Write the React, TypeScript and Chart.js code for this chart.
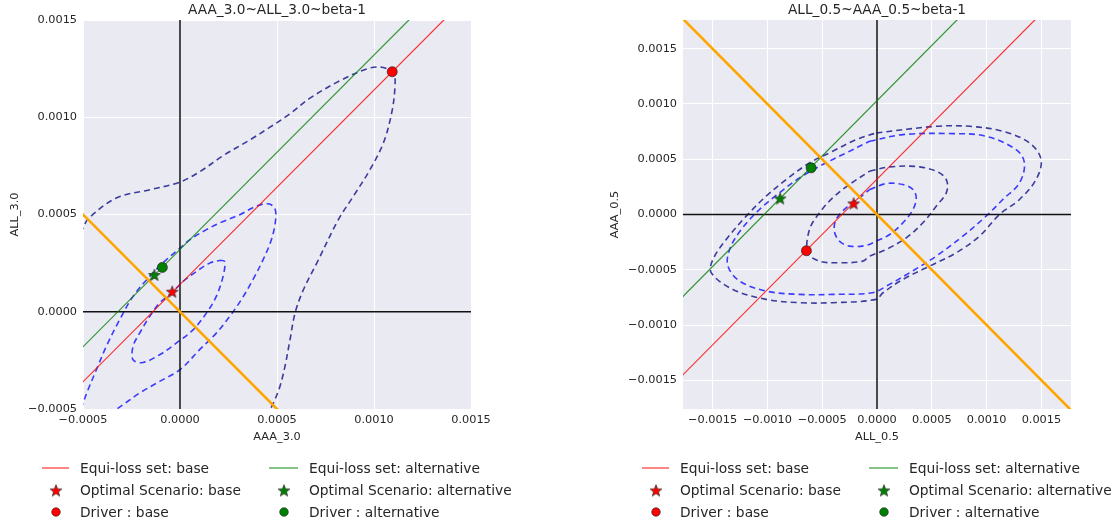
import React, { useEffect, useRef } from 'react';
import { Chart, registerables } from 'chart.js';

Chart.register(...registerables);

type Pt = [number, number];

// ---------- Left panel data: AAA_3.0 ~ ALL_3.0 ~ beta-1 ----------
const leftTitle = 'AAA_3.0~ALL_3.0~beta-1';
const leftXLabel = 'AAA_3.0';
const leftYLabel = 'ALL_3.0';
const leftTicks = [-0.0005, 0, 0.0005, 0.001, 0.0015];
const leftTickLabels = ['\u22120.0005', '0.0000', '0.0005', '0.0010', '0.0015'];

const leftEquiBase: Pt[] = [[-0.0007, -0.00056], [0.0017, 0.00184]];
const leftEquiAlt: Pt[] = [[-0.0007, -0.00038], [0.0017, 0.00202]];
const leftIso: Pt[] = [[-0.0007, 0.0007], [0.0017, -0.0017]];

const leftOptimalBase: Pt = [-0.00004, 0.000103];
const leftOptimalAlt: Pt = [-0.000132, 0.000189];
const leftDriverBase: Pt = [0.001094, 0.001234];
const leftDriverAlt: Pt = [-0.000091, 0.000228];

const leftContourOuter: Pt[] = [
  [-0.00052, 0.00041], [-0.0005, 0.00043], [-0.000474, 0.000477], [-0.000328, 0.000585],
  [-0.000156, 0.000627], [0.0, 0.000667], [0.000103, 0.000721], [0.000222, 0.000802],
  [0.000361, 0.000884], [0.000464, 0.000949], [0.000567, 0.001018], [0.00067, 0.001098],
  [0.000825, 0.001188], [0.000964, 0.001249], [0.001041, 0.001257], [0.0011, 0.001227],
  [0.001108, 0.001158], [0.001091, 0.001022], [0.001048, 0.000867], [0.000979, 0.00073],
  [0.000893, 0.000593], [0.000816, 0.000473], [0.000705, 0.00025], [0.000636, 0.000113],
  [0.000593, -0.000007], [0.000567, -0.000144], [0.000541, -0.000281], [0.000515, -0.000384],
  [0.000481, -0.00047], [0.000455, -0.00052],
];
const leftContourMiddle: Pt[] = [
  [-0.00051, -0.0005], [-0.0005, -0.00047], [-0.000474, -0.000401], [-0.000431, -0.000298],
  [-0.00038, -0.000178], [-0.000311, -0.000041], [-0.000242, 0.000079], [-0.000156, 0.000182],
  [-0.000071, 0.000267], [0.0, 0.000327], [0.00005, 0.00037], [0.000136, 0.000422],
  [0.000222, 0.000464], [0.000308, 0.000499], [0.000393, 0.000543], [0.000454, 0.000555],
  [0.000488, 0.000533], [0.000493, 0.000473], [0.000471, 0.00037], [0.000428, 0.000267],
  [0.000376, 0.000165], [0.000316, 0.000062], [0.000256, -0.000024], [0.000187, -0.00011],
  [0.000101, -0.000195], [0.0, -0.000298], [-0.000105, -0.000358], [-0.000208, -0.000418],
  [-0.000294, -0.000478], [-0.00034, -0.00051],
];
const leftContourInner: Pt[] = [
  [0.000204, 0.000264], [0.00023, 0.000259], [0.000222, 0.000182], [0.000187, 0.000079],
  [0.000136, -0.000007], [0.000067, -0.000093], [-0.000019, -0.000161], [-0.000105, -0.000221],
  [-0.000191, -0.000261], [-0.000242, -0.000247], [-0.000242, -0.000178], [-0.000208, -0.00011],
  [-0.000156, -0.000024], [-0.000105, 0.000045], [-0.00004, 0.0001], [0.000016, 0.000156],
  [0.000084, 0.000207], [0.000153, 0.00025], [0.000204, 0.000264],
];

// ---------- Right panel data: ALL_0.5 ~ AAA_0.5 ~ beta-1 ----------
const rightTitle = 'ALL_0.5~AAA_0.5~beta-1';
const rightXLabel = 'ALL_0.5';
const rightYLabel = 'AAA_0.5';
const rightTicks = [-0.0015, -0.001, -0.0005, 0, 0.0005, 0.001, 0.0015];
const rightTickLabels = ['\u22120.0015', '\u22120.0010', '\u22120.0005', '0.0000', '0.0005', '0.0010', '0.0015'];

const rightEquiBase: Pt[] = [[-0.002, -0.00168], [0.002, 0.00232]];
const rightEquiAlt: Pt[] = [[-0.002, -0.00097], [0.002, 0.00303]];
const rightIso: Pt[] = [[-0.002, 0.002], [0.002, -0.002]];

const rightOptimalBase: Pt = [-0.000213, 0.0001];
const rightOptimalAlt: Pt = [-0.000884, 0.000145];
const rightDriverBase: Pt = [-0.000644, -0.000328];
const rightDriverAlt: Pt = [-0.000601, 0.000422];

const rightContourOuterNavy: Pt[] = [
  [-0.000006, 0.000738], [0.00054, 0.000798], [0.000844, 0.000798], [0.001148, 0.000753],
  [0.001391, 0.000648], [0.001497, 0.000497], [0.001451, 0.000316], [0.0013, 0.000136],
  [0.001117, 0.0], [0.000935, -0.000196], [0.000723, -0.000346], [0.00048, -0.000467],
  [0.000237, -0.000587], [0.000055, -0.000708], [-0.000009, -0.000768], [-0.000404, -0.000798],
  [-0.000707, -0.000798], [-0.001011, -0.000768], [-0.001315, -0.000678], [-0.001512, -0.000527],
  [-0.001497, -0.000407], [-0.001376, -0.000226], [-0.001193, -0.000015], [-0.001011, 0.000166],
  [-0.000829, 0.000316], [-0.000616, 0.000467], [-0.000404, 0.000572], [-0.000191, 0.000678],
  [-0.000006, 0.000738],
];
const rightContourOuterBlue: Pt[] = [
  [-0.000067, 0.000663], [0.000237, 0.000723], [0.000692, 0.000732], [0.000996, 0.000708],
  [0.001269, 0.000587], [0.001345, 0.000467], [0.0013, 0.000286], [0.001148, 0.000136],
  [0.000996, -0.000015], [0.000783, -0.000196], [0.00054, -0.000377], [0.000298, -0.000527],
  [0.000085, -0.000648], [-0.00004, -0.000708], [-0.000404, -0.000723], [-0.000707, -0.000723],
  [-0.001011, -0.000693], [-0.001254, -0.000602], [-0.00136, -0.000467], [-0.001345, -0.000316],
  [-0.001239, -0.000136], [-0.001072, 0.000045], [-0.00089, 0.000196], [-0.000707, 0.000331],
  [-0.000495, 0.000452], [-0.000282, 0.000557], [-0.000067, 0.000663],
];
const rightContourInnerNavy: Pt[] = [
  [-0.000067, 0.000392], [0.000115, 0.000431], [0.000389, 0.000431], [0.000571, 0.000377],
  [0.000638, 0.000301], [0.000632, 0.000196], [0.00054, 0.000075], [0.000419, -0.000075],
  [0.000267, -0.000211], [0.000085, -0.000316], [-0.000067, -0.000377], [-0.000131, -0.000422],
  [-0.000343, -0.000437], [-0.000525, -0.000422], [-0.000632, -0.000346], [-0.000616, -0.000136],
  [-0.000525, 0.000015], [-0.000404, 0.000151], [-0.000252, 0.000271], [-0.000067, 0.000392],
];
const rightContourInnerBlue: Pt[] = [
  [-0.000067, 0.000226], [0.000085, 0.00028], [0.000237, 0.000271], [0.000328, 0.000226],
  [0.000358, 0.000151], [0.000328, 0.000045], [0.000237, -0.000075], [0.000115, -0.000181],
  [-0.000006, -0.000241], [-0.0001, -0.00028], [-0.000252, -0.000286], [-0.000343, -0.000241],
  [-0.000389, -0.000151], [-0.000373, -0.000045], [-0.000282, 0.00006], [-0.000161, 0.000151],
  [-0.000067, 0.000226],
];

const legendLabels = [
  'Equi-loss set: base', 'Equi-loss set: alternative',
  'Optimal Scenario: base', 'Optimal Scenario: alternative',
  'Driver : base', 'Driver : alternative',
];

// ---------- styles ----------
const FONT = "'DejaVu Sans', sans-serif";
const BG = '#EAEAF2';
const TEXT = '#262626';
const NAVY = 'rgba(0,0,128,0.75)';
const BLUE = 'rgba(0,0,255,0.75)';
const RED = 'rgba(255,0,0,0.8)';
const GREEN = 'rgba(0,128,0,0.8)';
const ORANGE = '#FFA500';

function starCanvas(fill: string, size: number): HTMLCanvasElement {
  const c = document.createElement('canvas');
  c.width = size;
  c.height = size;
  const ctx = c.getContext('2d')!;
  const cx = size / 2;
  const cy = size / 2 + 0.5;
  const R = size / 2 - 0.7;
  const r = R * 0.42;
  ctx.beginPath();
  for (let i = 0; i < 10; i++) {
    const a = -Math.PI / 2 + (i * Math.PI) / 5;
    const rr = i % 2 === 0 ? R : r;
    const x = cx + rr * Math.cos(a);
    const y = cy + rr * Math.sin(a);
    if (i === 0) ctx.moveTo(x, y);
    else ctx.lineTo(x, y);
  }
  ctx.closePath();
  ctx.fillStyle = fill;
  ctx.fill();
  ctx.lineWidth = 0.7;
  ctx.strokeStyle = '#333';
  ctx.stroke();
  return c;
}

type Contour = { pts: Pt[]; color: string };

type PanelProps = {
  left: number;
  width: number;
  areaRight: number;
  title: string;
  xLabel: string;
  yLabel: string;
  xMin: number; xMax: number; yMin: number; yMax: number;
  ticks: number[];
  tickLabels: string[];
  contours: Contour[];
  equiBase: Pt[]; equiAlt: Pt[]; iso: Pt[];
  optBase: Pt; optAlt: Pt; drvBase: Pt; drvAlt: Pt;
};

const legendRows = [468, 490.5, 512];
const legendCols = [
  { line0: 42, line1: 69, marker: 56, text: 80 },
  { line0: 269, line1: 298, marker: 284, text: 309 },
];

function Panel(p: PanelProps) {
  const ref = useRef<HTMLCanvasElement>(null);
  useEffect(() => {
    const canvas = ref.current!;
    const starRed = starCanvas('#ff0000', 14);
    const starGreen = starCanvas('#008000', 14);
    const toXY = (pts: Pt[]) => pts.map(([x, y]) => ({ x, y }));
    const lineDs = (pts: Pt[], color: string, width: number, extra: any = {}) => ({
      data: toXY(pts), showLine: true, pointRadius: 0, borderColor: color,
      borderWidth: width, backgroundColor: color, clip: 0, ...extra,
    });
    const datasets: any[] = [
      { data: toXY([p.drvBase]), pointStyle: 'circle', pointRadius: 5, backgroundColor: '#ff0000', borderColor: '#222', borderWidth: 0.7 },
      { data: toXY([p.drvAlt]), pointStyle: 'circle', pointRadius: 5, backgroundColor: '#008000', borderColor: '#222', borderWidth: 0.7 },
      { data: toXY([p.optBase]), pointStyle: starRed, pointRadius: 6 },
      { data: toXY([p.optAlt]), pointStyle: starGreen, pointRadius: 6 },
      lineDs(p.iso, ORANGE, 2.6),
      lineDs(p.equiAlt, GREEN, 1.2),
      lineDs(p.equiBase, RED, 1.2),
      lineDs([[0, p.yMin - 0.001], [0, p.yMax + 0.001]], '#111', 1.5),
      lineDs([[p.xMin - 0.001, 0], [p.xMax + 0.001, 0]], '#111', 1.5),
      ...p.contours.map((c) => lineDs(c.pts, c.color, 1.6, { borderDash: [6, 4], tension: 0.35 })),
    ];

    const bgPlugin = {
      id: 'bg',
      beforeDraw(chart: any) {
        const { ctx, chartArea: a } = chart;
        ctx.save();
        ctx.fillStyle = BG;
        ctx.fillRect(a.left, a.top, a.right - a.left, a.bottom - a.top);
        ctx.restore();
      },
    };
    const overlayPlugin = {
      id: 'overlay',
      afterDraw(chart: any) {
        const { ctx, chartArea: a } = chart;
        ctx.save();
        ctx.fillStyle = TEXT;
        ctx.font = `13.7px ${FONT}`;
        ctx.textAlign = 'center';
        ctx.textBaseline = 'middle';
        ctx.fillText(p.title, (a.left + a.right) / 2, 10);
        // legend
        ctx.font = `13.8px ${FONT}`;
        ctx.textAlign = 'left';
        const colors = [RED, GREEN];
        const fills = ['#ff0000', '#008000'];
        const stars = [starRed, starGreen];
        legendCols.forEach((col, ci) => {
          const y0 = legendRows[0];
          ctx.strokeStyle = colors[ci];
          ctx.lineWidth = 1.2;
          ctx.beginPath();
          ctx.moveTo(col.line0, y0);
          ctx.lineTo(col.line1, y0);
          ctx.stroke();
          ctx.fillStyle = TEXT;
          ctx.fillText(legendLabels[ci], col.text, y0 + 1);
          const y1 = legendRows[1];
          const s = stars[ci];
          ctx.drawImage(s, col.marker - s.width / 2, y1 - s.height / 2);
          ctx.fillStyle = TEXT;
          ctx.fillText(legendLabels[2 + ci], col.text, y1 + 1);
          const y2 = legendRows[2];
          ctx.beginPath();
          ctx.arc(col.marker, y2, 4.3, 0, Math.PI * 2);
          ctx.fillStyle = fills[ci];
          ctx.fill();
          ctx.lineWidth = 0.6;
          ctx.strokeStyle = '#222';
          ctx.stroke();
          ctx.fillStyle = TEXT;
          ctx.fillText(legendLabels[4 + ci], col.text, y2 + 1);
        });
        ctx.restore();
      },
    };

    const tickFont = { family: FONT, size: 11.3 };
    const chart = new Chart(canvas, {
      type: 'scatter',
      data: { datasets },
      options: {
        animation: false,
        responsive: false,
        devicePixelRatio: 1,
        events: [],
        layout: { padding: { left: 0, top: 20, right: p.width - p.areaRight, bottom: 76 } },
        plugins: { legend: { display: false }, tooltip: { enabled: false }, title: { display: false } },
        scales: {
          x: {
            type: 'linear',
            min: p.xMin,
            max: p.xMax,
            afterBuildTicks: (s: any) => { s.ticks = p.ticks.map((v) => ({ value: v })); },
            afterFit: (s: any) => { s.height = 40; },
            grid: { color: '#ffffff', lineWidth: 1, drawTicks: false },
            border: { display: false },
            ticks: {
              padding: 4, color: TEXT, font: tickFont, maxRotation: 0, autoSkip: false,
              callback: (v: any) => p.tickLabels[p.ticks.indexOf(v)] ?? '',
            },
            title: { display: true, text: p.xLabel, color: TEXT, font: { family: FONT, size: 11.3 }, padding: { top: 0, bottom: 5 } },
          },
          y: {
            type: 'linear',
            min: p.yMin,
            max: p.yMax,
            afterBuildTicks: (s: any) => { s.ticks = p.ticks.map((v) => ({ value: v })); },
            afterFit: (s: any) => { s.width = 83; },
            grid: { color: '#ffffff', lineWidth: 1, drawTicks: false },
            border: { display: false },
            ticks: {
              padding: 6, color: TEXT, font: tickFont, autoSkip: false,
              callback: (v: any) => p.tickLabels[p.ticks.indexOf(v)] ?? '',
            },
            title: { display: true, text: p.yLabel, color: TEXT, font: { family: FONT, size: 11.3 }, padding: { top: 8.2, bottom: 0 } },
          },
        },
      } as any,
      plugins: [bgPlugin, overlayPlugin],
    });
    return () => chart.destroy();
  }, []);
  return (
    <canvas
      ref={ref}
      width={p.width}
      height={525}
      style={{ position: 'absolute', left: p.left, top: 0, width: p.width, height: 525 }}
    />
  );
}

export default function App() {
  return (
    <div style={{ position: 'absolute', left: 0, top: 0, width: 1117, height: 525, background: '#fff', overflow: 'hidden' }}>
      <Panel
        left={0}
        width={560}
        areaRight={471}
        title={leftTitle}
        xLabel={leftXLabel}
        yLabel={leftYLabel}
        xMin={-0.0005} xMax={0.0015} yMin={-0.0005} yMax={0.0015}
        ticks={leftTicks}
        tickLabels={leftTickLabels}
        contours={[
          { pts: leftContourOuter, color: NAVY },
          { pts: leftContourMiddle, color: BLUE },
          { pts: leftContourInner, color: BLUE },
        ]}
        equiBase={leftEquiBase} equiAlt={leftEquiAlt} iso={leftIso}
        optBase={leftOptimalBase} optAlt={leftOptimalAlt} drvBase={leftDriverBase} drvAlt={leftDriverAlt}
      />
      <Panel
        left={600}
        width={517}
        areaRight={471}
        title={rightTitle}
        xLabel={rightXLabel}
        yLabel={rightYLabel}
        xMin={-0.00177} xMax={0.00177} yMin={-0.00176} yMax={0.00176}
        ticks={rightTicks}
        tickLabels={rightTickLabels}
        contours={[
          { pts: rightContourOuterNavy, color: NAVY },
          { pts: rightContourOuterBlue, color: BLUE },
          { pts: rightContourInnerNavy, color: NAVY },
          { pts: rightContourInnerBlue, color: BLUE },
        ]}
        equiBase={rightEquiBase} equiAlt={rightEquiAlt} iso={rightIso}
        optBase={rightOptimalBase} optAlt={rightOptimalAlt} drvBase={rightDriverBase} drvAlt={rightDriverAlt}
      />
    </div>
  );
}
